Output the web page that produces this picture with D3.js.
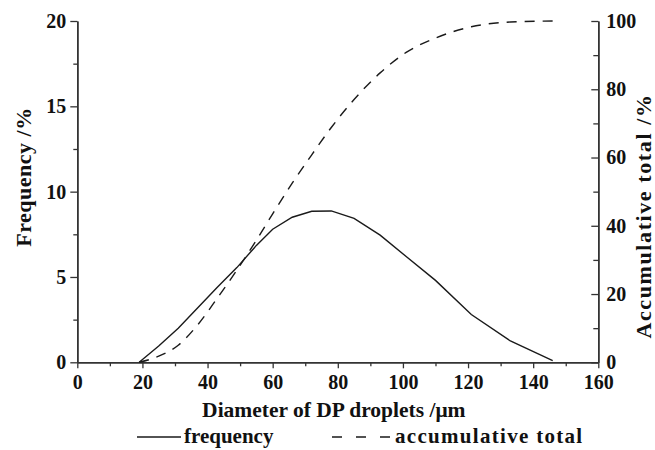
<!DOCTYPE html>
<html>
<head>
<meta charset="utf-8">
<script src="https://cdn.jsdelivr.net/npm/d3@7"></script>
<style>
  body { margin: 0; background: #fff; }
  svg text { font-family: "Liberation Serif", "Times New Roman", serif; font-weight: bold; fill: #111; }
</style>
</head>
<body>
<div id="grafica"></div>
<script>
// diámetro de gota (µm)
const diametros = [19, 25, 31, 37, 43, 49, 55, 60, 66, 72, 78, 85, 93, 101, 110, 121, 133, 146];
// frecuencia (%)
const frecuencia = [0, 0.95, 2.0, 3.2, 4.4, 5.55, 6.85, 7.8, 8.5, 8.85, 8.87, 8.43, 7.45, 6.2, 4.8, 2.8, 1.25, 0.1];
// acumulado (%)
const acumulado = [0, 1.8, 5, 11, 18.8, 27, 35.8, 43.5, 52.5, 60.8, 68.8, 77, 84.8, 90.8, 95, 98.3, 99.7, 100];

const ticksX = [0, 20, 40, 60, 80, 100, 120, 140, 160];
const ticksIzq = [0, 5, 10, 15, 20];
const ticksDer = [0, 20, 40, 60, 80, 100];

const ancho = 655, alto = 450;
const izq = 77.3, der = 598.3, arriba = 21, abajo = 362.3;
const colorEje = "#333";

const x = d3.scaleLinear().domain([0, 160]).range([izq, der]);
const yFrec = d3.scaleLinear().domain([0, 20]).range([abajo, arriba]);
const yAcum = d3.scaleLinear().domain([0, 100]).range([abajo, arriba]);

const $svg = d3.select("#grafica")
    .append("svg")
    .attr("width", ancho)
    .attr("height", alto);

// ticks menores primero, sin etiquetas
const menores = (eje, valores, tam) => eje.tickValues(valores).tickSize(tam).tickFormat("").tickSizeOuter(0);

$svg.append("g")
    .attr("transform", `translate(0,${abajo})`)
    .call(menores(d3.axisBottom(x), d3.range(10, 160, 20), 4));
$svg.append("g")
    .attr("transform", `translate(${izq},0)`)
    .call(menores(d3.axisLeft(yFrec), d3.range(2.5, 20, 5), 4));
$svg.append("g")
    .attr("transform", `translate(${der},0)`)
    .call(menores(d3.axisRight(yAcum), d3.range(10, 100, 20), -5));

const ejeX = $svg.append("g")
    .attr("transform", `translate(0,${abajo})`)
    .call(d3.axisBottom(x).tickValues(ticksX).tickSize(6).tickSizeOuter(0).tickPadding(7));

const ejeIzq = $svg.append("g")
    .attr("transform", `translate(${izq},0)`)
    .call(d3.axisLeft(yFrec).tickValues(ticksIzq).tickSize(7).tickSizeOuter(0).tickPadding(4));

const ejeDer = $svg.append("g")
    .attr("transform", `translate(${der},0)`)
    .call(d3.axisRight(yAcum).tickValues(ticksDer).tickSize(-7).tickSizeOuter(0).tickPadding(8));

$svg.selectAll(".domain").attr("stroke", colorEje).attr("stroke-width", 1.5);
$svg.selectAll(".tick line").attr("stroke", colorEje).attr("stroke-width", 1.3);
[ejeX, ejeIzq, ejeDer].forEach(e => e.selectAll("text")
    .attr("font-size", 20)
    .attr("font-family", "Liberation Serif")
    .attr("font-weight", "bold")
    .attr("fill", "#111"));

// curvas
const lineaFrec = d3.line()
    .x((d, i) => x(diametros[i]))
    .y(d => yFrec(d));
const lineaAcum = d3.line()
    .x((d, i) => x(diametros[i]))
    .y(d => yAcum(d))
    .curve(d3.curveMonotoneX);

$svg.append("path")
    .attr("d", lineaFrec(frecuencia))
    .attr("fill", "none")
    .attr("stroke", "#1a1a1a")
    .attr("stroke-width", 1.4);

$svg.append("path")
    .attr("d", lineaAcum(acumulado))
    .attr("fill", "none")
    .attr("stroke", "#1a1a1a")
    .attr("stroke-width", 1.4)
    .attr("stroke-dasharray", "10,8");

// títulos
$svg.append("text")
    .attr("x", (izq + der) / 2 - 4)
    .attr("y", 417)
    .attr("text-anchor", "middle")
    .attr("font-size", 21.5)
    .text("Diameter of DP droplets /\u03bcm");

$svg.append("text")
    .attr("transform", `translate(31,177) rotate(-90)`)
    .attr("text-anchor", "middle")
    .attr("font-size", 22)
    .attr("letter-spacing", 0.5)
    .text("Frequency /%");

$svg.append("text")
    .attr("transform", `translate(651,216) rotate(-90)`)
    .attr("text-anchor", "middle")
    .attr("font-size", 22)
    .attr("letter-spacing", 1.6)
    .text("Accumulative total /%");

// leyenda
const yLeyenda = 437;
$svg.append("line")
    .attr("x1", 137).attr("x2", 181)
    .attr("y1", yLeyenda).attr("y2", yLeyenda)
    .attr("stroke", "#1a1a1a").attr("stroke-width", 1.4);
$svg.append("text")
    .attr("x", 184).attr("y", yLeyenda + 6)
    .attr("font-size", 21)
    .text("frequency");
$svg.append("line")
    .attr("x1", 332).attr("x2", 392)
    .attr("y1", yLeyenda).attr("y2", yLeyenda)
    .attr("stroke", "#1a1a1a").attr("stroke-width", 1.4)
    .attr("stroke-dasharray", "10,14");
$svg.append("text")
    .attr("x", 395).attr("y", yLeyenda + 6)
    .attr("font-size", 21)
    .attr("letter-spacing", 1.3)
    .text("accumulative total");
</script>
</body>
</html>
